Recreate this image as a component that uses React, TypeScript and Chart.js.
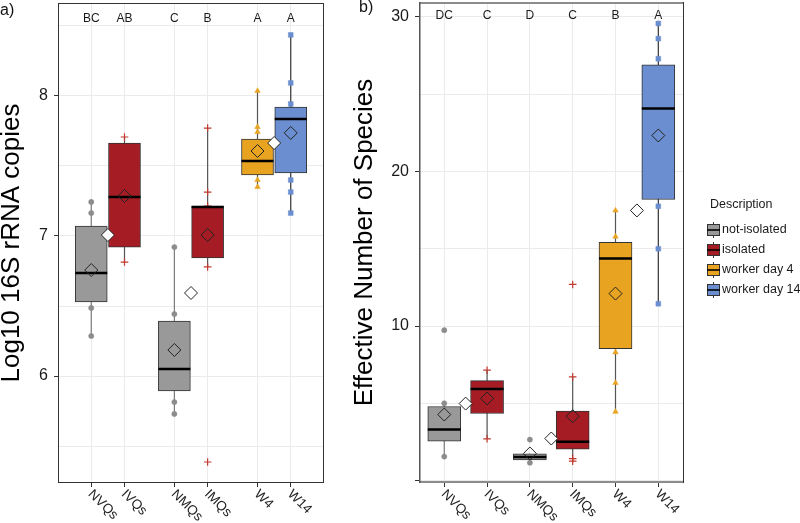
import React, { useEffect, useRef } from 'react';
import { Chart, registerables } from 'chart.js';

Chart.register(...registerables);

// ---------------- data ----------------
const categories = ['NVQs', 'IVQs', 'NMQs', 'IMQs', 'W4', 'W14'];
const legendLabels = ['not-isolated', 'isolated', 'worker day 4', 'worker day 14'];
const legendColors = ['#999999', '#A51C24', '#E8A321', '#6A8ECF'];

// panel a) Log10 16S rRNA copies
const posA = [0.8, 1.2, 1.8, 2.2, 2.8, 3.2];
const groupPosA = [1, 2, 3];
const lowA = [6.286, 6.814, 5.729, 6.779, 7.35, 7.164];
const q1A = [6.529, 6.921, 5.893, 6.843, 7.436, 7.45];
const medA = [6.736, 7.279, 6.05, 7.207, 7.536, 7.836];
const q3A = [7.071, 7.664, 6.393, 7.214, 7.693, 7.921];
const highA = [7.243, 7.707, 6.921, 7.771, 8.036, 8.436];
const meanA = [6.757, 7.286, 6.186, 7.007, 7.607, 7.736];
const groupMeanA = [7.007, 6.593, 7.664];
const pointsA = [
  [7.243, 7.164, 6.486, 6.286],
  [7.707, 6.814],
  [6.921, 6.443, 5.814, 5.729],
  [7.771, 7.314, 7.214, 6.779, 5.386],
  [8.036, 7.779, 7.743, 7.4, 7.35],
  [8.436, 8.093, 7.943, 7.4, 7.314, 7.164],
];
const lettersA = ['BC', 'AB', 'C', 'B', 'A', 'A'];
const yTicksA = [5.5, 6, 6.5, 7, 7.5, 8, 8.5];
const yLabelsA = [6, 7, 8];

// panel b) Effective Number of Species
const posB = [1, 2, 3, 4, 5, 6];
const groupPosB = [1.5, 3.5, 5.5];
const lowB = [1.55, 2.7, 1.15, 1.25, 4.45, 11.44];
const q1B = [2.54, 4.34, 1.34, 2.03, 8.54, 18.19];
const medB = [3.3, 5.93, 1.53, 2.51, 14.37, 24.08];
const q3B = [4.79, 6.47, 1.73, 4.49, 15.42, 26.9];
const highB = [5.0, 7.14, 1.73, 6.71, 17.48, 29.58];
const meanB = [4.27, 5.31, 1.75, 4.16, 12.1, 22.33];
const groupMeanB = [4.98, 2.72, 17.48];
const pointsB = [
  [9.73, 5.0, 1.55],
  [7.14, 2.7],
  [2.65, 1.15],
  [12.69, 6.71, 1.42, 1.25],
  [17.48, 15.79, 8.3, 6.32, 4.45],
  [29.58, 28.6, 27.3, 17.75, 15.0, 11.44],
];
const lettersB = ['DC', 'C', 'D', 'C', 'B', 'A'];
const yTicksB = [0, 5, 10, 15, 20, 25, 30];
const yLabelsB = [10, 20, 30];

// ---------------- styles ----------------
const boxFill = ['#999999', '#A51C24', '#999999', '#A51C24', '#E8A321', '#6A8ECF'];
const pointColor = ['#8c8c8c', '#C0392F', '#8c8c8c', '#C0392F', '#E8A321', '#6A8ECF'];
const pointShape = ['circle', 'cross', 'circle', 'cross', 'triangle', 'rect'];
const pointSize = [2.6, 3.8, 2.6, 3.8, 3.2, 3.4];
const whiskerColor = ['#7a7a7a', '#555555', '#7a7a7a', '#555555', '#555555', '#333333'];
const FONT = '"Liberation Sans", Arial, Helvetica, sans-serif';

Chart.defaults.font.family = FONT;

type Panel = {
  id: string;
  pos: number[];
  groupPos: number[];
  low: number[];
  q1: number[];
  med: number[];
  q3: number[];
  high: number[];
  mean: number[];
  groupMean: number[];
  points: number[][];
  letters: string[];
  yTicks: number[];
  yLabels: number[];
  xMin: number;
  xMax: number;
  yMin: number;
  yMax: number;
  boxPx: number;
  title: string;
  titlePad: number;
  yAxisWidth: number;
  padLeft: number;
  padRight: number;
  padTop: number;
  tag: string;
  tagX: number;
  tagY: number;
  letterOffset: number;
  legend: boolean;
  canvasLeft: number;
};

function decorPlugin(p: Panel) {
  return {
    id: 'decor_' + p.id,
    afterDraw(chart: any) {
      const { ctx, chartArea: ca, scales } = chart;
      const xs = scales.x;
      ctx.save();
      // panel border
      if (p.id === 'a') {
        ctx.strokeStyle = '#333333';
        ctx.lineWidth = 1;
        ctx.strokeRect(ca.left + 0.5, ca.top + 0.5, ca.right - ca.left - 1, ca.bottom - ca.top - 1);
      } else {
        ctx.strokeStyle = '#8c8c8c';
        ctx.lineWidth = 2;
        ctx.beginPath();
        ctx.moveTo(ca.left, ca.top + 1);
        ctx.lineTo(ca.right, ca.top + 1);
        ctx.moveTo(ca.left, ca.bottom - 1);
        ctx.lineTo(ca.right, ca.bottom - 1);
        ctx.stroke();
        ctx.strokeStyle = '#555555';
        ctx.lineWidth = 1.5;
        ctx.beginPath();
        ctx.moveTo(ca.left + 0.75, ca.top);
        ctx.lineTo(ca.left + 0.75, ca.bottom);
        ctx.stroke();
        ctx.strokeStyle = '#333333';
        ctx.lineWidth = 1;
        ctx.beginPath();
        ctx.moveTo(ca.right - 0.5, ca.top);
        ctx.lineTo(ca.right - 0.5, ca.bottom);
        ctx.stroke();
      }
      // significance letters
      ctx.fillStyle = '#1a1a1a';
      ctx.font = '12px ' + FONT;
      ctx.textAlign = 'center';
      ctx.textBaseline = 'middle';
      p.letters.forEach((t, i) => {
        ctx.fillText(t, xs.getPixelForValue(p.pos[i]), ca.top + p.letterOffset);
      });
      // rotated x labels
      ctx.font = '13.5px ' + FONT;
      ctx.fillStyle = '#222222';
      categories.forEach((t, i) => {
        ctx.save();
        ctx.translate(xs.getPixelForValue(p.pos[i]) - 1, ca.bottom + 9);
        ctx.rotate(Math.PI / 4);
        ctx.textAlign = 'left';
        ctx.textBaseline = 'middle';
        ctx.fillText(t, 0, 0);
        ctx.restore();
      });
      // panel tag
      ctx.font = '16px ' + FONT;
      ctx.fillStyle = '#111111';
      ctx.textAlign = 'left';
      ctx.textBaseline = 'middle';
      ctx.fillText(p.tag, p.tagX, p.tagY);
      // legend
      if (p.legend) {
        const lx = 707 - p.canvasLeft;
        ctx.font = '12.5px ' + FONT;
        ctx.fillStyle = '#1a1a1a';
        ctx.fillText('Description', 710 - p.canvasLeft, 205);
        const rows = [230, 250, 270, 290];
        legendLabels.forEach((lab, i) => {
          const y = rows[i];
          ctx.fillStyle = legendColors[i];
          ctx.fillRect(lx, y - 5.5, 13, 11);
          ctx.strokeStyle = '#333333';
          ctx.lineWidth = 1;
          ctx.strokeRect(lx + 0.5, y - 5.5, 12, 11);
          ctx.beginPath();
          ctx.moveTo(lx + 6.5, y - 8);
          ctx.lineTo(lx + 6.5, y - 5.5);
          ctx.moveTo(lx + 6.5, y + 5.5);
          ctx.lineTo(lx + 6.5, y + 8);
          ctx.stroke();
          ctx.strokeStyle = '#000000';
          ctx.lineWidth = 1.6;
          ctx.beginPath();
          ctx.moveTo(lx, y);
          ctx.lineTo(lx + 13, y);
          ctx.stroke();
          ctx.fillStyle = '#1a1a1a';
          ctx.fillText(lab, 722 - p.canvasLeft, y);
        });
      }
      ctx.restore();
    },
  };
}

function buildConfig(p: Panel): any {
  const datasets: any[] = [];
  // means
  datasets.push({
    type: 'scatter',
    label: 'mean',
    order: 0,
    data: p.mean.map((v, i) => ({ x: p.pos[i], y: v })),
    pointStyle: 'rectRot',
    pointRadius: 6.5,
    pointBackgroundColor: 'rgba(0,0,0,0)',
    pointBorderColor: '#222222',
    pointBorderWidth: 1,
  });
  datasets.push({
    type: 'scatter',
    label: 'group mean',
    order: 0,
    data: p.groupMean.map((v, i) => ({ x: p.groupPos[i], y: v })),
    pointStyle: 'rectRot',
    pointRadius: 6.5,
    pointBackgroundColor: '#ffffff',
    pointBorderColor: '#222222',
    pointBorderWidth: 1,
  });
  // medians
  datasets.push({
    type: 'scatter',
    label: 'median',
    order: 1,
    data: p.med.map((v, i) => ({ x: p.pos[i], y: v })),
    pointStyle: 'line',
    pointRadius: p.boxPx / 2,
    pointBorderColor: '#000000',
    pointBorderWidth: 2.5,
  });
  // boxes
  datasets.push({
    type: 'bar',
    label: 'box',
    order: 2,
    data: p.pos.map((x, i) => ({ x, y: [p.q1[i], p.q3[i]] })),
    backgroundColor: boxFill,
    borderColor: '#333333',
    borderWidth: 1,
    borderSkipped: false,
    barThickness: p.boxPx,
  });
  // points
  p.points.forEach((arr, i) => {
    datasets.push({
      type: 'scatter',
      label: 'pts' + i,
      order: 3,
      data: arr.map((v) => ({ x: p.pos[i], y: v })),
      pointStyle: pointShape[i],
      pointRadius: pointSize[i],
      pointBackgroundColor: pointColor[i],
      pointBorderColor: pointColor[i],
      pointBorderWidth: pointShape[i] === 'cross' ? 1.2 : 0.5,
    });
  });
  // whiskers
  p.pos.forEach((x, i) => {
    datasets.push({
      type: 'line',
      label: 'wh' + i,
      order: 4,
      data: [
        { x, y: p.low[i] },
        { x, y: p.high[i] },
      ],
      borderColor: whiskerColor[i],
      borderWidth: 1.2,
      pointRadius: 0,
      fill: false,
    });
  });

  const majors = p.yLabels;
  return {
    type: 'scatter',
    data: { datasets },
    options: {
      responsive: false,
      animation: false,
      events: [],
      layout: { autoPadding: false, padding: { left: p.padLeft, right: p.padRight, top: p.padTop, bottom: 0 } },
      plugins: { legend: { display: false }, tooltip: { enabled: false } },
      scales: {
        x: {
          type: 'linear',
          min: p.xMin,
          max: p.xMax,
          offset: false,
          afterBuildTicks: (s: any) => {
            s.ticks = p.pos.map((v) => ({ value: v }));
          },
          afterFit: (s: any) => {
            s.height = 40;
            s.paddingLeft = 0;
            s.paddingRight = 0;
            s.paddingTop = 0;
            s.paddingBottom = 0;
          },
          ticks: { display: false },
          grid: {
            color: '#ebebeb',
            lineWidth: 1,
            drawTicks: true,
            tickLength: 4,
            tickColor: '#333333',
            offset: false,
          },
          border: { display: false },
        },
        y: {
          type: 'linear',
          min: p.yMin,
          max: p.yMax,
          afterBuildTicks: (s: any) => {
            s.ticks = p.yTicks.map((v) => ({ value: v }));
          },
          afterFit: (s: any) => {
            s.width = p.yAxisWidth;
            s.paddingLeft = 0;
            s.paddingRight = 0;
            s.paddingTop = 0;
            s.paddingBottom = 0;
          },
          ticks: {
            font: { size: 16, family: FONT },
            color: '#1a1a1a',
            padding: 6,
            callback: (v: number) => (majors.includes(v) ? String(v) : ''),
          },
          grid: {
            color: '#ebebeb',
            lineWidth: 1,
            drawTicks: true,
            tickLength: 4,
            tickColor: (c: any) => (c.tick && (majors.includes(c.tick.value) || c.tick.value === 0) ? '#333333' : 'rgba(0,0,0,0)'),
          },
          border: { display: false },
          title: {
            display: true,
            text: p.title,
            color: '#000000',
            font: { size: 26, family: FONT, lineHeight: 1 },
            padding: { top: p.titlePad, bottom: 0 },
          },
        },
      },
    },
    plugins: [decorPlugin(p)],
  };
}

const panelA: Panel = {
  id: 'a',
  pos: posA,
  groupPos: groupPosA,
  low: lowA,
  q1: q1A,
  med: medA,
  q3: q3A,
  high: highA,
  mean: meanA,
  groupMean: groupMeanA,
  points: pointsA,
  letters: lettersA,
  yTicks: yTicksA,
  yLabels: yLabelsA,
  xMin: 0.4,
  xMax: 3.6,
  yMin: 5.236,
  yMax: 8.664,
  boxPx: 32,
  title: 'Log10 16S rRNA copies',
  titlePad: -1,
  yAxisWidth: 58,
  padLeft: 0,
  padRight: 6,
  padTop: 3,
  tag: 'a)',
  tagX: 0,
  tagY: 11,
  letterOffset: 16,
  legend: false,
  canvasLeft: 0,
};

const panelB: Panel = {
  id: 'b',
  pos: posB,
  groupPos: groupPosB,
  low: lowB,
  q1: q1B,
  med: medB,
  q3: q3B,
  high: highB,
  mean: meanB,
  groupMean: groupMeanB,
  points: pointsB,
  letters: lettersB,
  yTicks: yTicksB,
  yLabels: yLabelsB,
  xMin: 0.41,
  xMax: 6.6,
  yMin: -0.16,
  yMax: 30.97,
  boxPx: 33,
  title: 'Effective Number of Species',
  titlePad: 22,
  yAxisWidth: 89,
  padLeft: 0,
  padRight: 116,
  padTop: 2,
  tag: 'b)',
  tagX: 29,
  tagY: 8,
  letterOffset: 14,
  legend: true,
  canvasLeft: 330,
};

function PanelChart({ panel, left, width }: { panel: Panel; left: number; width: number }) {
  const ref = useRef<HTMLCanvasElement>(null);
  useEffect(() => {
    if (!ref.current) return;
    const chart = new Chart(ref.current, buildConfig(panel));
    return () => chart.destroy();
  }, [panel]);
  return (
    <canvas
      ref={ref}
      width={width}
      height={523}
      style={{ position: 'absolute', left, top: 0, width, height: 523, display: 'block' }}
    />
  );
}

export default function App() {
  return (
    <div style={{ position: 'fixed', left: 0, top: 0, width: 800, height: 523, background: '#ffffff', overflow: 'hidden' }}>
      <PanelChart panel={panelA} left={0} width={330} />
      <PanelChart panel={panelB} left={330} width={470} />
    </div>
  );
}
